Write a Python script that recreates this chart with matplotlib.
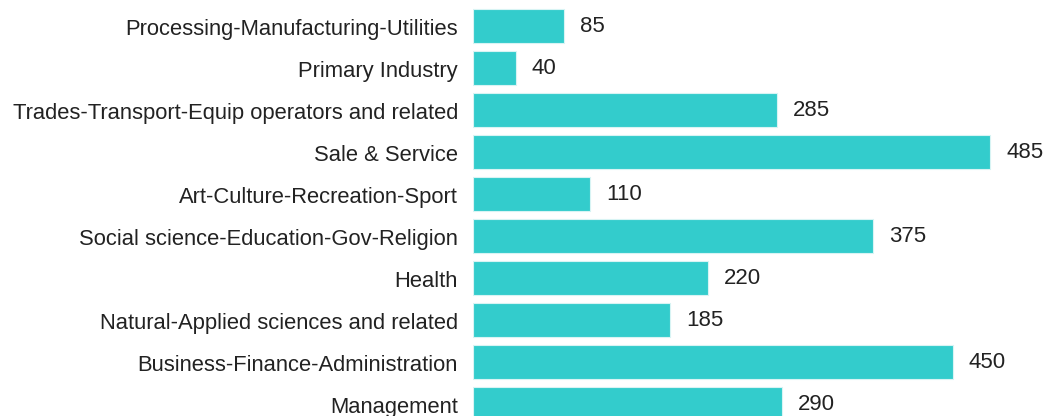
import matplotlib.pyplot as plt
from matplotlib.transforms import ScaledTranslation

categories = [
    "Processing-Manufacturing-Utilities",
    "Primary Industry",
    "Trades-Transport-Equip operators and related",
    "Sale & Service",
    "Art-Culture-Recreation-Sport",
    "Social science-Education-Gov-Religion",
    "Health",
    "Natural-Applied sciences and related",
    "Business-Finance-Administration",
    "Management",
]
values = [85, 40, 285, 485, 110, 375, 220, 185, 450, 290]

plt.rcParams["font.family"] = ["Liberation Sans", "DejaVu Sans"]

fig = plt.figure(figsize=(10.44, 4.16), dpi=100)
ax = fig.add_axes([473 / 1044, 0, 571 / 1044, 1])

pos = list(range(len(categories)))
ax.barh(pos, values, height=0.83, color="#33CCCC", edgecolor="#d8f4f4", linewidth=0.8)

# value labels just past the end of each bar
for y, v in zip(pos, values):
    ax.annotate(str(v), (v, y), xytext=(16, -1), textcoords="offset pixels",
                va="center", ha="left", fontsize=16, color="#222222")

ax.set_yticks(pos)
ax.set_yticklabels(categories, fontsize=15.8, color="#222222")
ax.tick_params(axis="y", length=0, pad=10.8)
nudge = ScaledTranslation(0, -1 / 100, fig.dpi_scale_trans)
for lbl in ax.get_yticklabels():
    lbl.set_transform(lbl.get_transform() + nudge)
ax.set_xticks([])
ax.set_xlim(0, 535.6)
ax.set_ylim(9.286, -0.619)
for s in ax.spines.values():
    s.set_visible(False)

fig.savefig("out.png", dpi=100)
